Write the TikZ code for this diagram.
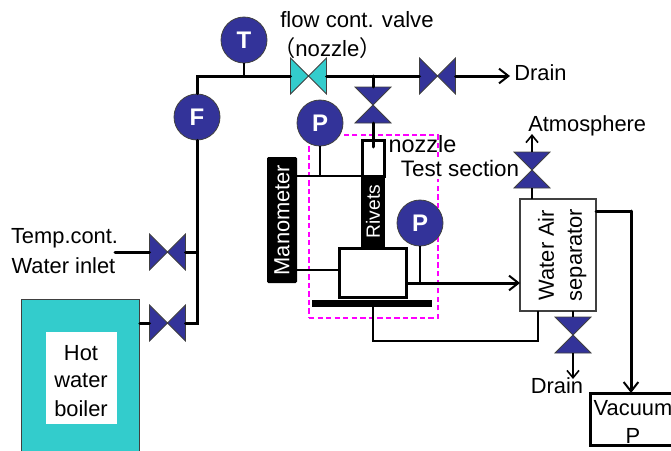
\documentclass[tikz,border=0pt]{standalone}
\usepackage{fontspec}
\setmainfont{Liberation Sans}
\newfontfamily\cjkf{Noto Sans CJK JP}
\usetikzlibrary{arrows.meta}
\definecolor{navy}{HTML}{333399}
\definecolor{teal2}{HTML}{33CCCC}
\definecolor{edgegray}{HTML}{404040}
\definecolor{dashmag}{HTML}{FF00FF}
\tikzset{
  x=0.75pt,y=-0.75pt,
  pipe/.style={line width=2.25pt,line cap=round,line join=miter},
  thinpipe/.style={line width=1.5pt},
  flow/.style={-{Straight Barb[length=7pt,width=11pt,line width=1.5pt]}},
  thinflow/.style={-{Straight Barb[length=5.5pt,width=9pt,line width=1.2pt]}},
  gauge/.style={circle,draw=edgegray,line width=0.6pt,fill=navy,text=white,minimum size=34.5pt,inner sep=0pt,font=\fontsize{18}{18}\selectfont\bfseries},
  valvebase/.style={rectangle,inner sep=0pt,outer sep=0pt,minimum size=27pt},
  hvalve/.style={valvebase,append after command={\pgfextra{\draw[draw=edgegray,line width=0.6pt,fill=#1] (\tikzlastnode.north west) -- (\tikzlastnode.south east) -- (\tikzlastnode.north east) -- (\tikzlastnode.south west) -- cycle;}}},
  hvalve/.default=navy,
  vvalve/.style={valvebase,append after command={\pgfextra{\draw[draw=edgegray,line width=0.6pt,fill=navy] (\tikzlastnode.north west) -- (\tikzlastnode.north east) -- (\tikzlastnode.south west) -- (\tikzlastnode.south east) -- cycle;}}},
  label/.style={inner sep=0pt,font=\fontsize{16.4}{16.4}\selectfont},
  blackbar/.style={fill=black,text=white,rotate=90,inner sep=0pt,outer sep=0pt},
}
\begin{document}
\begin{tikzpicture}
\useasboundingbox (0,0) rectangle (671,450);
% test section frame
\node[draw=dashmag,line width=1.5pt,dash pattern=on 4pt off 2.4pt,minimum width=96.75pt,minimum height=137.25pt,inner sep=0pt] (frame) at (373.5,226.5) {};
% texts with a white ground
\node[label,fill=white,inner xsep=1pt,inner ysep=2pt,font=\fontsize{16.8}{16.8}\selectfont] (testlabel) at (460,168) {Test section};
\node[label,font=\fontsize{17.6}{17.6}\selectfont] (nozzlelabel) at (422.5,144) {nozzle};
% gauges and valves
\node[gauge] (T) at (244,40) {T};
\node[gauge] (F) at (197,117) {F};
\node[gauge] (P1) at (320,123) {P};
\node[gauge] (P2) at (420,223) {P};
\node[hvalve=teal2] (flowvalve) at (308.5,76) {};
\node[hvalve] (drainvalve) at (437.5,76) {};
\node[vvalve] (nozzlevalve) at (373,105) {};
\node[hvalve] (inletvalve) at (167.5,252) {};
\node[hvalve] (boilervalve) at (167.5,323) {};
\node[vvalve] (atmvalve) at (532,170) {};
\node[vvalve] (sepdrain) at (573,335) {};
% equipment
\node[draw=black,line width=2.25pt,fill=white,minimum width=16.5pt,minimum height=27pt,inner sep=0pt] (nozzlebox) at (373,158.5) {};
\node[blackbar,minimum width=53pt,minimum height=18pt,font=\fontsize{14.4}{14.4}\selectfont] (rivets) at (373,211.5) {Rivets};
\node[blackbar,rounded corners=1pt,minimum width=94.5pt,minimum height=22.5pt,font=\fontsize{16.4}{16.4}\selectfont] (manometer) at (282,220) {Manometer};
\node[draw=black,line width=2.25pt,fill=white,minimum width=50.5pt,minimum height=37pt,inner sep=0pt,outer sep=0pt] (chamber) at (373,273) {};
\node[fill=black,minimum width=90pt,minimum height=5.5pt,inner sep=0pt,outer sep=0pt] (base) at (372,303.5) {};
\node[draw=edgegray,line width=1.5pt,fill=white,minimum width=57pt,minimum height=84pt,inner sep=0pt,outer sep=0pt] (separator) at (558,255) {};
\node[rotate=90,label] (septext1) at (546,255) {Water Air};
\node[rotate=90,label] (septext2) at (577,255) {separator};
\node[draw=black,line width=2.25pt,fill=white,minimum width=63pt,minimum height=39pt,inner sep=0pt,outer sep=0pt] (vacuum) at (632,419) {};
\node[label] (vac1) at (633,408) {Vacuum};
\node[label] (vac2) at (633,436) {P};
\node[draw=edgegray,line width=0.9pt,fill=teal2,minimum width=89pt,minimum height=115pt,inner sep=0pt,outer sep=0pt] (boiler) at (80.5,376) {};
\node[fill=white,minimum width=53.5pt,minimum height=69pt,inner sep=0pt] (boilerlabel) at (81.5,378) {};
\node[label] (b1) at (81,353) {Hot};
\node[label] (b2) at (81,381) {water};
\node[label] (b3) at (81,409) {boiler};
% free ends and bends
\coordinate (corner) at (197,76);
\coordinate (drainend) at (510,76);
\coordinate (inletend) at (115,252);
\coordinate (jbottom) at (197,323);
\coordinate (atmend) at (532,134);
\coordinate (drainbot) at (573,379);
\coordinate (vacbend) at (631,211);
\coordinate (pj) at (320,176);
\coordinate (mj) at (320,270);
\coordinate (nj) at (373,76);
\coordinate (nz) at (373,147);
\coordinate (p2j) at (420,283);
\coordinate (bj) at (373,341);
\coordinate (sj) at (538,341);
% labels
\node[label,anchor=west,font=\fontsize{16.6}{16.6}\selectfont] (flowlabel) at (280,20) {flow cont. valve};
\node[label,anchor=west,font=\fontsize{16.6}{16.6}\selectfont] (paren) at (273,48) {{\cjkf （}nozzle{\cjkf ）}};
\node[label,anchor=west] (drainlabel) at (514,73) {Drain};
\node[label,anchor=west] (atmlabel) at (528,126) {Atmosphere};
\node[label] (templabel) at (64.5,238) {Temp.cont.};
\node[label] (waterlabel) at (63.5,266) {Water inlet};
\node[label] (drainlabel2) at (557,386) {Drain};
% pipes
\draw[pipe] (F.north) -- (corner) -- (flowvalve.west);
\draw[thinpipe] (T.south) -- (T.south |- corner);
\draw[pipe] (flowvalve.east) -- (drainvalve.west);
\draw[pipe,flow] (drainvalve.east) -- (drainend);
\draw[pipe] (nj) -- (nozzlevalve.north);
\draw[pipe] (nozzlevalve.south) -- (nz);
\draw[pipe] (F.south) -- (jbottom) -- (boilervalve.east);
\draw[pipe] (boilervalve.west) -- (boiler.east |- boilervalve);
\draw[pipe] (inletend) -- (inletvalve.west);
\draw[pipe] (inletvalve.east) -- (inletvalve.east -| jbottom);
\draw[thinpipe] (P1.south) -- (pj);
\draw[thinpipe] (manometer.south |- pj) -- (rivets.north |- pj);
\draw[thinpipe] (manometer.south |- mj) -- (chamber.west |- mj);
\draw[thinpipe] (P2.south) -- (p2j);
\draw[pipe,flow] (chamber.east |- p2j) -- (separator.west |- p2j);
\draw[thinpipe] (base.south -| bj) -- (bj) -- (sj) -- (separator.south -| sj);
\draw[thinpipe] (atmvalve.south) -- (separator.north -| atmvalve);
\draw[thinpipe,thinflow] (atmvalve.north) -- (atmend);
\draw[thinpipe] (separator.south -| sepdrain) -- (sepdrain.north);
\draw[thinpipe,thinflow] (sepdrain.south) -- (drainbot);
\draw[pipe] (separator.east |- vacbend) -- (vacbend);
\draw[pipe,flow] (vacbend) -- (vacuum.north -| vacbend);
\end{tikzpicture}
\end{document}
